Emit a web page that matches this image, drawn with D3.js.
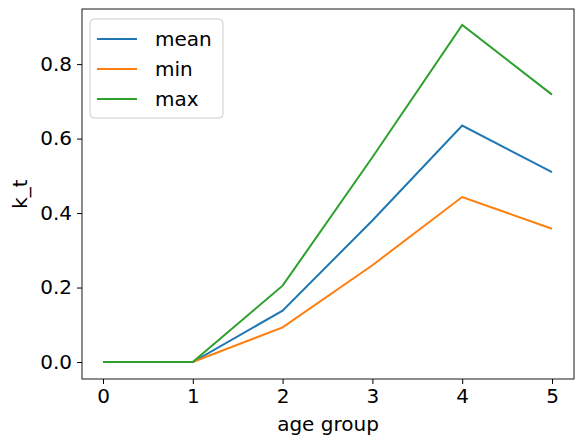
<!DOCTYPE html><html><head><meta charset="utf-8">
<script src="https://cdn.jsdelivr.net/npm/d3@7"></script>
<style>body{margin:0;background:#fff}text{font-family:"DejaVu Sans";}</style></head><body>
<script>
const groups=[0,1,2,3,4,5];
const meanVals=[0,0,0.138,0.38,0.635,0.51];
const minVals=[0,0,0.093,0.26,0.443,0.358];
const maxVals=[0,0,0.205,0.55,0.905,0.718];
const xTicks=[0,1,2,3,4,5];
const yTicks=[0,0.2,0.4,0.6,0.8];
const series=[{name:"mean",vals:meanVals,color:"#1f77b4"},{name:"min",vals:minVals,color:"#ff7f0e"},{name:"max",vals:maxVals,color:"#2ca02c"}];
const W=585,H=444,L=82,R=574,T=9,B=379;
const svg=d3.select("body").append("svg").attr("width",W).attr("height",H);
const x=d3.scaleLinear().domain([-0.234,5.245]).range([L,R]);
const y=d3.scaleLinear().domain([-0.0456,0.948]).range([B,T]);
const ax=svg.append("g").attr("transform",`translate(0,${B})`).call(d3.axisBottom(x).tickValues(xTicks).tickFormat(d3.format("d")).tickSize(5).tickPadding(5));
const ay=svg.append("g").attr("transform",`translate(${L},0)`).call(d3.axisLeft(y).tickValues(yTicks).tickFormat(d3.format(".1f")).tickSize(5).tickPadding(5));
[ax,ay].forEach(a=>{a.select(".domain").remove();a.selectAll("text").attr("font-size",20).attr("fill","#000").style("font-family","DejaVu Sans");a.selectAll("line").attr("stroke","#000");});
const line=d3.line().x((d,i)=>x(groups[i])).y(d=>y(d));
series.forEach(s=>svg.append("path").attr("d",line(s.vals)).attr("fill","none").attr("stroke",s.color).attr("stroke-width",2));
svg.append("rect").attr("x",L).attr("y",T).attr("width",R-L).attr("height",B-T).attr("fill","none").attr("stroke","#000").attr("stroke-width",0.9);
svg.append("text").attr("x",(L+R)/2).attr("y",431).attr("text-anchor","middle").attr("font-size",20).text("age group");
svg.append("text").attr("transform",`translate(27,${(T+B)/2}) rotate(-90)`).attr("text-anchor","middle").attr("font-size",20).text("k_t");
const lg=svg.append("g");
lg.append("rect").attr("x",90).attr("y",19).attr("width",133).attr("height",99).attr("rx",4).attr("fill","#fff").attr("fill-opacity",0.8).attr("stroke","#ccc");
series.forEach((s,i)=>{const yy=39+i*30;
lg.append("line").attr("x1",97).attr("x2",137).attr("y1",yy).attr("y2",yy).attr("stroke",s.color).attr("stroke-width",2);
lg.append("text").attr("x",155).attr("y",yy+7).attr("font-size",20).text(s.name);});
</script></body></html>
